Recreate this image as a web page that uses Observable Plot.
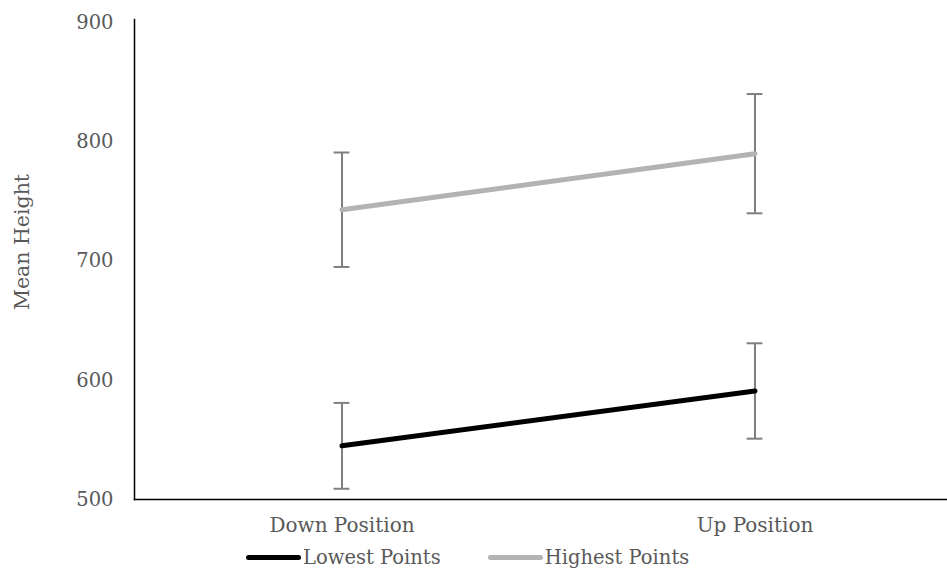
<!DOCTYPE html>
<html>
<head>
<meta charset="utf-8">
<script src="https://cdn.jsdelivr.net/npm/d3@7"></script>
<script src="https://cdn.jsdelivr.net/npm/@observablehq/plot@0.6"></script>
<style>
  body { margin: 0; background: #fff; font-family: "DejaVu Serif", serif; color: #595959; }
  #legend { display: flex; align-items: center; padding-left: 246px; height: 24px; font-size: 19.5px; }
  .item { display: flex; align-items: center; margin-right: 47px; }
  .swatch { width: 55px; height: 5px; border-radius: 2.5px; margin-right: 2px; }
</style>
</head>
<body>
<div id="chart"></div>
<div id="legend"></div>
<script>
// Hand positions on the horizontal axis
const positions = ["Down Position", "Up Position"];

// Series: mean height and half-width of the error bar at each position
const seriesNames = ["Lowest Points", "Highest Points"];
const lowestMean = [545, 591];
const lowestErr = [36, 40];
const highestMean = [743, 790];
const highestErr = [48, 50];

const yTicks = [500, 600, 700, 800, 900];
const yTitle = "Mean Height";

const seriesColors = {"Lowest Points": "#000000", "Highest Points": "#b3b3b3"};

const rows = [];
positions.forEach((p, i) => {
  rows.push({position: p, series: seriesNames[0], mean: lowestMean[i], err: lowestErr[i]});
  rows.push({position: p, series: seriesNames[1], mean: highestMean[i], err: highestErr[i]});
});

// Narrow bands: marks sit at the band centre, the band width sets the cap width
const capInset = 12.6;

const chart = Plot.plot({
  width: 947,
  height: 545,
  marginLeft: 134,
  marginRight: 0,
  marginTop: 22,
  marginBottom: 46,
  style: {fontFamily: "DejaVu Serif, serif", fontSize: "19px", color: "#595959", background: "#fff"},
  x: {type: "band", domain: positions, paddingInner: 0.9, paddingOuter: 0.434, align: 0.522,
      label: null},
  y: {domain: [500, 900], label: null},
  marks: [
    Plot.axisX({tickSize: 0, tickPadding: 18, fontSize: 20, label: null}),
    Plot.axisY(yTicks, {tickSize: 0, tickPadding: 21, fontSize: 19.5, label: null}),
    // Axis lines along the left and bottom of the frame
    Plot.frame({anchor: "left", stroke: "#000", strokeWidth: 1.5, insetTop: -3}),
    Plot.frame({anchor: "bottom", stroke: "#000", strokeWidth: 1.5}),
    Plot.text([yTitle], {frameAnchor: "left", dx: -112, dy: -19, rotate: -90,
      fontSize: 20.5, fill: "#595959", textAnchor: "middle", lineAnchor: "middle"}),
    Plot.ruleX(rows, {x: "position", y1: d => d.mean - d.err, y2: d => d.mean + d.err,
      stroke: "#7f7f7f", strokeWidth: 2}),
    Plot.tickY(rows, {x: "position", y: d => d.mean - d.err, stroke: "#7f7f7f", strokeWidth: 2,
      insetLeft: capInset, insetRight: capInset}),
    Plot.tickY(rows, {x: "position", y: d => d.mean + d.err, stroke: "#7f7f7f", strokeWidth: 2,
      insetLeft: capInset, insetRight: capInset}),
    Plot.line(rows, {x: "position", y: "mean", z: "series",
      stroke: d => seriesColors[d.series], strokeWidth: 5, strokeLinecap: "round"})
  ]
});

document.getElementById("chart").appendChild(chart);

const legend = document.getElementById("legend");
seriesNames.forEach(name => {
  const item = document.createElement("div");
  item.className = "item";
  const sw = document.createElement("div");
  sw.className = "swatch";
  sw.style.background = seriesColors[name];
  const label = document.createElement("span");
  label.textContent = name;
  item.appendChild(sw);
  item.appendChild(label);
  legend.appendChild(item);
});
</script>
</body>
</html>
